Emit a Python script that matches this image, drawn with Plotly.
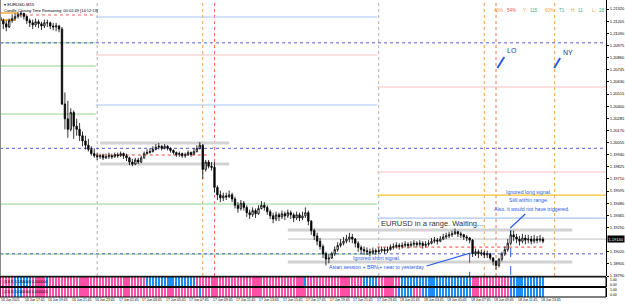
import plotly.graph_objects as go

# ---------------- DATA ----------------
first_open = 1.2124
close_px = [
 1.2121, 1.2118, 1.2115, 1.2121, 1.2123, 1.2125, 1.2127, 1.2128, 1.2125, 1.2121, 1.2119, 1.2117, 1.2120, 1.2118, 1.2116, 1.2119, 1.2119, 1.2116, 1.2115, 1.2116, 1.2113,
 1.2042, 1.2028, 1.2018, 1.2034, 1.2021, 1.2018, 1.2012, 1.2007, 1.2003, 1.1999, 1.1995, 1.1993,
 1.1992, 1.1993, 1.1991, 1.1992, 1.1993, 1.1992, 1.1994, 1.1993, 1.1995, 1.1993, 1.1991, 1.1987, 1.1985, 1.1989, 1.1987, 1.1991, 1.1995, 1.1996, 1.1997, 1.1999, 1.2001, 1.2002, 1.2000, 1.2002, 1.2000, 1.1998, 1.1996, 1.1994, 1.1995, 1.1993, 1.1994, 1.1996, 1.1994, 1.1997, 1.2000, 1.2003,
 1.1980, 1.1987, 1.1983, 1.1982, 1.1963, 1.1956, 1.1953, 1.1955, 1.1954, 1.1956, 1.1952,
 1.1946, 1.1943, 1.1948, 1.1944, 1.1939, 1.1937, 1.1941, 1.1938, 1.1943, 1.1946, 1.1944, 1.1940, 1.1936, 1.1933, 1.1937, 1.1935, 1.1938, 1.1936, 1.1939, 1.1937, 1.1934, 1.1937, 1.1934, 1.1936, 1.1939, 1.1931,
 1.1922, 1.1917, 1.1912, 1.1907, 1.1900, 1.1895, 1.1896, 1.1900, 1.1904, 1.1908, 1.1910, 1.1912, 1.1914, 1.1916, 1.1914, 1.1910, 1.1906, 1.1904, 1.1903, 1.1902, 1.1901, 1.1903, 1.1902,
 1.1903, 1.1904, 1.1903, 1.1904, 1.1906, 1.1907, 1.1908, 1.1907, 1.1908, 1.1909, 1.1908, 1.1909, 1.1910, 1.1909, 1.1910, 1.1908, 1.1909, 1.1910, 1.1912, 1.1913, 1.1912, 1.1914, 1.1916, 1.1917, 1.1918, 1.1919, 1.1921, 1.1919, 1.1918, 1.1916, 1.1915, 1.1913,
 1.1900, 1.1902, 1.1900, 1.1901, 1.1899, 1.1900, 1.1896, 1.1893, 1.1889, 1.1895, 1.1900, 1.1904, 1.1910, 1.1918, 1.1916, 1.1914, 1.1912, 1.1915, 1.1913, 1.1914, 1.1912, 1.1914, 1.1913, 1.1914, 1.1912]
high_px = [
 1.2126, 1.2123, 1.2121, 1.2123, 1.2127, 1.2128, 1.2129, 1.2130, 1.2128, 1.2126, 1.2123, 1.2122, 1.2123, 1.2122, 1.2120, 1.2122, 1.2122, 1.2120, 1.2119, 1.2119, 1.2117,
 1.2115, 1.2053, 1.2045, 1.2038, 1.2036, 1.2028, 1.2024, 1.2016, 1.2012, 1.2009, 1.2002, 1.2000,
 1.1996, 1.1995, 1.1995, 1.1995, 1.1996, 1.1995, 1.1996, 1.1996, 1.1997, 1.1996, 1.1995, 1.1992, 1.1990, 1.1991, 1.1991, 1.1993, 1.1997, 1.1999, 1.2000, 1.2002, 1.2004, 1.2005, 1.2003, 1.2004, 1.2003, 1.2001, 1.1999, 1.1997, 1.1997, 1.1996, 1.1996, 1.1998, 1.1997, 1.2000, 1.2003, 1.2006,
 1.2004, 1.1989, 1.1989, 1.1987, 1.1987, 1.1965, 1.1960, 1.1958, 1.1958, 1.1960, 1.1958,
 1.1954, 1.1949, 1.1951, 1.1950, 1.1946, 1.1942, 1.1944, 1.1943, 1.1946, 1.1950, 1.1949, 1.1946, 1.1942, 1.1939, 1.1940, 1.1939, 1.1941, 1.1940, 1.1942, 1.1941, 1.1939, 1.1940, 1.1939, 1.1940, 1.1944, 1.1941,
 1.1932, 1.1924, 1.1920, 1.1915, 1.1909, 1.1902, 1.1900, 1.1902, 1.1907, 1.1911, 1.1914, 1.1916, 1.1918, 1.1920, 1.1919, 1.1915, 1.1912, 1.1908, 1.1907, 1.1906, 1.1905, 1.1906, 1.1905,
 1.1906, 1.1907, 1.1906, 1.1907, 1.1909, 1.1910, 1.1911, 1.1910, 1.1911, 1.1912, 1.1911, 1.1912, 1.1913, 1.1912, 1.1913, 1.1912, 1.1912, 1.1913, 1.1915, 1.1916, 1.1915, 1.1917, 1.1919, 1.1920, 1.1921, 1.1922, 1.1924, 1.1922, 1.1921, 1.1919, 1.1918, 1.1916,
 1.1914, 1.1905, 1.1904, 1.1904, 1.1903, 1.1903, 1.1901, 1.1897, 1.1894, 1.1896, 1.1902, 1.1907, 1.1914, 1.1922, 1.1922, 1.1919, 1.1917, 1.1919, 1.1918, 1.1918, 1.1917, 1.1918, 1.1917, 1.1918, 1.1916]
low_px = [
 1.2118, 1.2113, 1.2111, 1.2114, 1.2119, 1.2121, 1.2123, 1.2124, 1.2122, 1.2118, 1.2115, 1.2113, 1.2115, 1.2114, 1.2112, 1.2114, 1.2115, 1.2113, 1.2112, 1.2111, 1.2110,
 1.2041, 1.2018, 1.2010, 1.2016, 1.2009, 1.2012, 1.2007, 1.2002, 1.1999, 1.1997, 1.1993, 1.1991,
 1.1989, 1.1990, 1.1989, 1.1990, 1.1990, 1.1990, 1.1991, 1.1991, 1.1992, 1.1990, 1.1988, 1.1984, 1.1983, 1.1984, 1.1985, 1.1986, 1.1990, 1.1994, 1.1995, 1.1996, 1.1998, 1.1999, 1.1998, 1.1999, 1.1998, 1.1996, 1.1994, 1.1992, 1.1992, 1.1991, 1.1991, 1.1993, 1.1992, 1.1994, 1.1996, 1.1999,
 1.1971, 1.1978, 1.1981, 1.1979, 1.1958, 1.1951, 1.1949, 1.1950, 1.1951, 1.1953, 1.1949,
 1.1943, 1.1939, 1.1941, 1.1941, 1.1935, 1.1933, 1.1935, 1.1934, 1.1937, 1.1942, 1.1941, 1.1937, 1.1933, 1.1929, 1.1931, 1.1931, 1.1933, 1.1932, 1.1934, 1.1933, 1.1930, 1.1932, 1.1931, 1.1932, 1.1934, 1.1927,
 1.1918, 1.1913, 1.1908, 1.1904, 1.1896, 1.1889, 1.1891, 1.1895, 1.1898, 1.1902, 1.1906, 1.1908, 1.1910, 1.1911, 1.1910, 1.1906, 1.1902, 1.1900, 1.1899, 1.1899, 1.1898, 1.1900, 1.1899,
 1.1900, 1.1901, 1.1900, 1.1901, 1.1903, 1.1904, 1.1905, 1.1904, 1.1905, 1.1906, 1.1905, 1.1906, 1.1907, 1.1906, 1.1907, 1.1905, 1.1906, 1.1907, 1.1909, 1.1910, 1.1909, 1.1911, 1.1913, 1.1914, 1.1915, 1.1916, 1.1918, 1.1916, 1.1915, 1.1913, 1.1912, 1.1910,
 1.1897, 1.1898, 1.1896, 1.1898, 1.1896, 1.1896, 1.1894, 1.1889, 1.1885, 1.1887, 1.1893, 1.1898, 1.1902, 1.1908, 1.1912, 1.1910, 1.1908, 1.1910, 1.1909, 1.1910, 1.1909, 1.1910, 1.1910, 1.1911, 1.1910]

# indicator states as (state, run length); 1 = blue, 0 = pink
ind1_runs = [(0, 5), (1, 6), (0, 5), (1, 1), (0, 33), (1, 17), (0, 37), (1, 1), (0, 19), (1, 5), (0, 8), (1, 24), (0, 13), (1, 12)]
ind2_runs = [(0, 5), (1, 3), (0, 60), (1, 1), (0, 67), (1, 5), (0, 3), (1, 17), (0, 13), (1, 12)]

# time axis labels every 8 bars
time_label_bars = list(range(0, 185, 8))
time_labels = ["16 Jun 2021", "16 Jun 17:45", "16 Jun 19:45", "16 Jun 21:45", "16 Jun 23:45",
               "17 Jun 01:45", "17 Jun 03:45", "17 Jun 05:45", "17 Jun 07:45", "17 Jun 09:45",
               "17 Jun 11:45", "17 Jun 13:45", "17 Jun 15:45", "17 Jun 17:45", "17 Jun 19:45",
               "17 Jun 21:45", "17 Jun 23:45", "18 Jun 01:45", "18 Jun 03:45", "18 Jun 05:45",
               "18 Jun 07:45", "18 Jun 09:45", "18 Jun 11:45", "18 Jun 13:45"]
price_ticks = [1.18790, 1.18905, 1.19020, 1.19135, 1.19250, 1.19365, 1.19480, 1.19595, 1.19710,
               1.19825, 1.19940, 1.20055, 1.20170, 1.20285, 1.20400, 1.20515, 1.20630, 1.20745,
               1.20860, 1.20975, 1.21090, 1.21205, 1.21320]
current_price = 1.19140

# level lines (prices)
round_levels = [1.2100, 1.2000, 1.1900]
day1_green = [1.21000, 1.20780, 1.20325]
day2_levels = [1.21245, 1.20885, 1.20411]
day3_levels_red = [1.20581, 1.19776]
day3_yellow = 1.19557
day3_blue = 1.19339
prev_green = [1.19472, 1.18998]
range1 = [1.20050, 1.19851]
range2 = [1.19226, 1.18922]
red_dot1 = 1.19937
red_dot2 = 1.19064
red_dot0 = 1.21264
orange_box = [1.21283, 1.21216]
day_sep_bars = [33, 129]
london_bars = [69, 165]
lo_bars = [73, 169]
ny_bar = 189
signal_bars = [(160, 1.1900), (174, 1.19226)]

# ---------------- FIGURE ----------------
n = len(close_px)
bars = list(range(n))
open_px = [first_open] + close_px[:-1]
high_px = [max(h, o, c) for h, o, c in zip(high_px, open_px, close_px)]
low_px = [min(l, o, c) for l, o, c in zip(low_px, open_px, close_px)]

def expand(runs):
    out = []
    for s, k in runs:
        out += [s] * k
    return out

ind1 = expand(ind1_runs)
ind2 = expand(ind2_runs)
PINK, BLUE = '#FF4FA7', '#1E8CF5'

PW, PH = 608, 297
XR = [-0.136, 206.5]
YR = [1.18790, 1.21406]

def xp(px):
    return px / PW

def yp(py):
    return 1 - py / PH

fig = go.Figure()
fig.add_trace(go.Candlestick(
    x=bars, open=open_px, high=high_px, low=low_px, close=close_px,
    increasing=dict(line=dict(color='black', width=0.8), fillcolor='white'),
    decreasing=dict(line=dict(color='black', width=0.8), fillcolor='black'),
    whiskerwidth=0, showlegend=False, hoverinfo='skip', xaxis='x', yaxis='y'))
fig.add_trace(go.Bar(x=bars, y=[1] * n, marker=dict(color=[BLUE if s else PINK for s in ind1], line=dict(width=0)),
                     width=0.72, xaxis='x', yaxis='y2', showlegend=False, hoverinfo='skip'))
fig.add_trace(go.Bar(x=bars, y=[1] * n, marker=dict(color=[BLUE if s else PINK for s in ind2], line=dict(width=0)),
                     width=0.72, xaxis='x', yaxis='y3', showlegend=False, hoverinfo='skip'))

shapes = []
def hline(x0, x1, y, color, width=1, dash='solid'):
    shapes.append(dict(type='line', xref='x', yref='y', x0=x0, x1=x1, y0=y, y1=y,
                       line=dict(color=color, width=width, dash=dash), layer='below'))

def vline(x, color, dash='dot', y0=None, y1=None, width=1):
    if y0 is None:
        shapes.append(dict(type='line', xref='x', yref='paper', x0=x, x1=x, y0=yp(276), y1=1,
                           line=dict(color=color, width=width, dash=dash), layer='below'))
    else:
        shapes.append(dict(type='line', xref='x', yref='y', x0=x, x1=x, y0=y0, y1=y1,
                           line=dict(color=color, width=width, dash=dash), layer='below'))

LEFT, RIGHT = XR[0], XR[1]
d1, d2 = day_sep_bars[0] - 0.5, day_sep_bars[1] - 0.5
for lv in day1_green:
    hline(LEFT, d1, lv, '#8FD88F')
hline(LEFT, 6, orange_box[0], '#F5B041', 1.5)
hline(LEFT, 5, orange_box[1], '#F5B041', 2)
hline(6, d1, red_dot0, '#F06060', 1, 'dot')
hline(d1, d2, day2_levels[0], '#A9C6EE')
hline(d1, d2, day2_levels[1], '#F6C0C0')
hline(d1, d2, day2_levels[2], '#A9C6EE')
for lv in prev_green:
    hline(LEFT, d2, lv, '#8FD88F')
hline(34, 78, range1[0], '#D2D2D2', 3)
hline(34, 78, range1[1], '#D2D2D2', 3)
hline(d1, 71, red_dot1, '#F04040', 1, 'dot')
hline(d2, RIGHT, day3_levels_red[0], '#F6C0C0')
hline(d2, RIGHT, day3_levels_red[1], '#F6C0C0')
hline(d2, RIGHT, day3_yellow, '#F2C230', 1.3)
hline(d2, RIGHT, day3_blue, '#A9C6EE', 1.3)
hline(98, 195, range2[0], '#D2D2D2', 3)
hline(98, 195, range2[1], '#D2D2D2', 3)
hline(d2, 185, red_dot2, '#F04040', 1, 'dot')
hline(98, RIGHT, current_price, '#C0C0C0', 1)
for lv in round_levels:
    hline(LEFT, RIGHT, lv, '#5A5AD2', 1, 'dot')
for b in day_sep_bars:
    vline(b, '#B0B0B0')
for b in london_bars:
    vline(b, '#F5A040')
for b in lo_bars:
    vline(b, '#F07050')
vline(ny_bar, '#F5A040')
for b, p in signal_bars:
    vline(b, '#2C5BE8', 'dash', p, YR[0])

frame = dict(color='black', width=1)
shapes.append(dict(type='rect', xref='paper', yref='paper', x0=0, x1=1, y0=yp(286.5), y1=yp(277), line=frame))
shapes.append(dict(type='rect', xref='paper', yref='paper', x0=0, x1=1, y0=yp(297), y1=yp(287.5), line=frame))
shapes.append(dict(type='line', xref='paper', yref='paper', x0=0, x1=1, y0=yp(276.3), y1=yp(276.3), line=frame))
shapes.append(dict(type='line', xref='paper', yref='paper', x0=0.0008, x1=0.0008, y0=yp(276), y1=1, line=dict(color='#888', width=1)))

ann = []
def text(x, y, s, size=5, color='black', xanchor='left', yanchor='middle', **kw):
    ann.append(dict(x=xp(x), y=yp(y), xref='paper', yref='paper', text=s, showarrow=False,
                    xanchor=xanchor, yanchor=yanchor, font=dict(size=size, color=color, family='Liberation Sans'), **kw))

text(2, 4, '▾ EURUSD,M15', 4.2)
text(2, 10.5, 'Candle Closing Time Remaining: 00:02:49 [14:12:13]', 4)
text(494, 11, '40%', 4.5, '#F5A040')
text(507, 11, '54%', 4.5, '#F05050')
text(523, 11, 'Y:', 4.5, '#F5A040')
text(530, 11, '115', 4.5, '#3CB371')
text(545, 11, '60%', 4.5, '#F5A040')
text(559, 11, 'T1', 4.5, '#3CB371')
text(571, 11, 'H:', 4.5, '#F5A040')
text(578, 11, '11', 4.5, '#3CB371')
text(592, 11, 'L:', 4.5, '#F5A040')
text(599, 11, '28', 4.5, '#3CB371')
text(507, 50, 'LO', 7, '#1a3a9a')
text(563, 53, 'NY', 7, '#1a3a9a')
text(380, 223, 'EURUSD in a range. Waiting...', 7.5, '#333333')
text(378, 258, 'Ignored short signal.', 5.2, '#2C5BE8', 'center')
text(378, 267, 'Asian session + BRN + near to yesterday', 5.2, '#2C5BE8', 'center')
text(530, 192, 'Ignored long signal.', 5.2, '#2C5BE8', 'center')
text(530, 200, 'Still within range.', 5.2, '#2C5BE8', 'center')
text(533, 208.5, 'Also, it would not have triggered.', 5.2, '#2C5BE8', 'center')
text(2, 281.5, '(24,3) 1.000000 0.000000', 3.8)
text(2, 292, '(24,3) 1.000000 0.000000', 3.8)
text(610, 279.5, '1.00', 3.5)
text(610, 284.5, '0.00', 3.5)
text(610, 290, '1.00', 3.5)
text(610, 295, '0.00', 3.5)

def arrow_line(x0, y0, x1, y1, w=1.2):
    shapes.append(dict(type='line', xref='paper', yref='paper', x0=xp(x0), y0=yp(y0), x1=xp(x1), y1=yp(y1),
                       line=dict(color='#2C5BE8', width=w)))
arrow_line(506, 57, 499, 68, 2)
arrow_line(562, 58, 556, 68, 2)
arrow_line(428, 266, 472, 253)
arrow_line(527, 214, 512, 228)

for b, s in zip(time_label_bars, time_labels):
    ann.append(dict(x=b, y=yp(300.5), xref='x', yref='paper', text=s, showarrow=False, xanchor='left',
                    yanchor='middle', xshift=-1, font=dict(size=3.4, color='black', family='Liberation Sans')))

ann.append(dict(x=1.0, y=current_price, xref='paper', yref='y', text='1.19140', showarrow=False,
                xanchor='left', yanchor='middle', xshift=1, bgcolor='black', borderpad=0.5,
                font=dict(size=4, color='white', family='Liberation Sans')))

tick_vals = [p for p in price_ticks if abs(p - current_price) > 0.0005]
fig.update_layout(
    width=625, height=304, margin=dict(l=0, r=17, t=0, b=7),
    paper_bgcolor='white', plot_bgcolor='white',
    shapes=shapes, annotations=ann, bargap=0,
    xaxis=dict(domain=[0, 1], range=XR, showgrid=False, zeroline=False, showticklabels=False,
               rangeslider=dict(visible=False), anchor='y3', showline=False, fixedrange=True),
    yaxis=dict(domain=[yp(276), 1], range=YR, side='right', tickvals=tick_vals,
               ticktext=[f'{v:.5f}' for v in tick_vals], showgrid=False, zeroline=False,
               ticks='outside', ticklen=2, tickcolor='black', showline=True, linecolor='black', linewidth=1,
               tickfont=dict(size=4, family='Liberation Sans', color='black')),
    yaxis2=dict(domain=[yp(286.5), yp(277)], range=[0, 1], showticklabels=False, showgrid=False,
                zeroline=False, anchor='x', side='right', showline=True, linecolor='black'),
    yaxis3=dict(domain=[yp(297), yp(287.5)], range=[0, 1], showticklabels=False, showgrid=False,
                zeroline=False, anchor='x', side='right', showline=True, linecolor='black'),
)
fig.write_html('out.html')
